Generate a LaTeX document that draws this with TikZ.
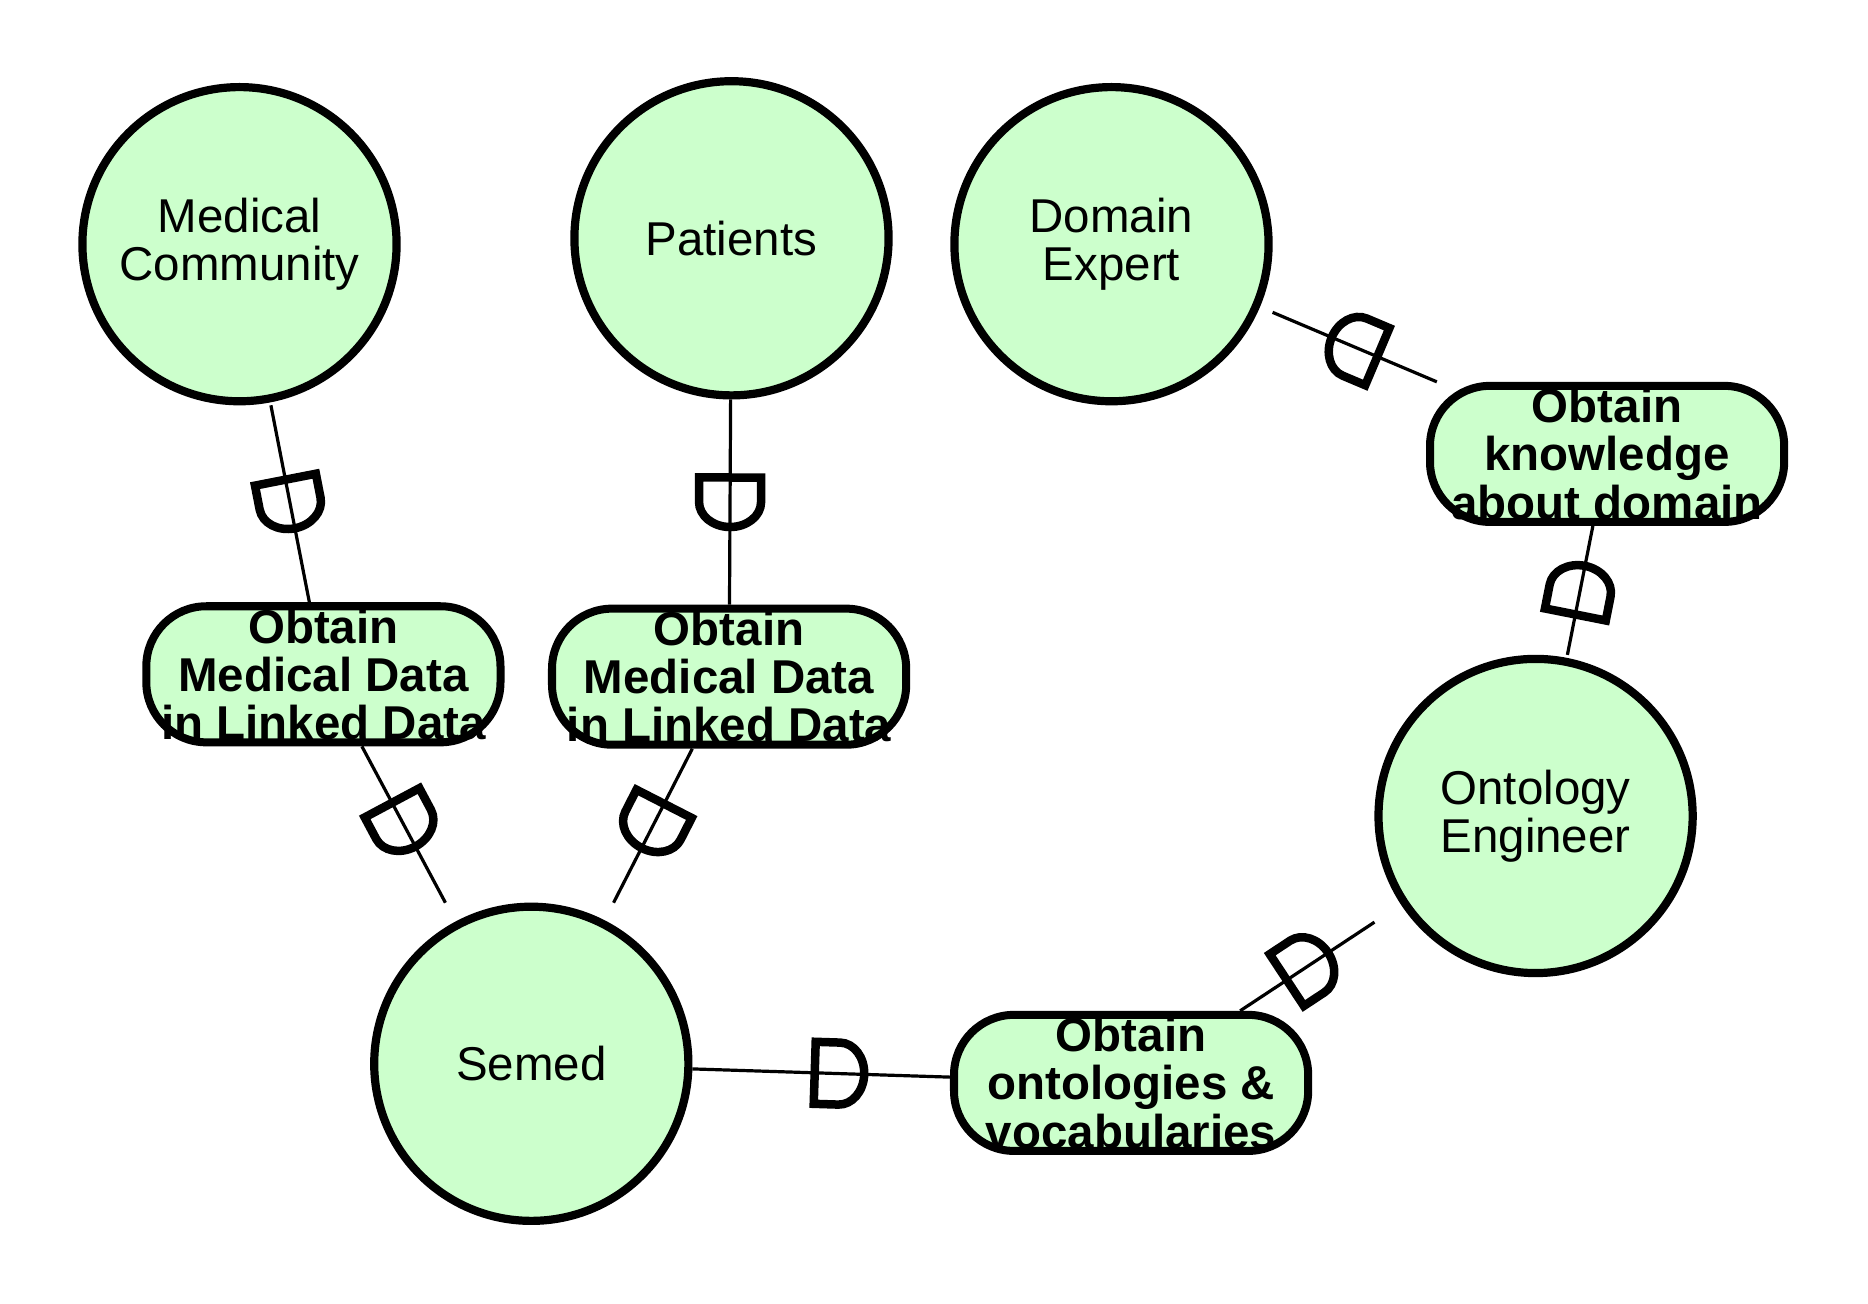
\documentclass[tikz,border=0pt]{standalone}
\usepackage{fontspec}
\setmainfont{Liberation Sans}
\usetikzlibrary{decorations.markings}
\definecolor{goalgreen}{RGB}{204,255,204}
\begin{document}
\begin{tikzpicture}[x=0.01cm,y=0.01cm,
  actor/.style={circle,draw=black,fill=goalgreen,line width=0.082cm,minimum size=3.14cm,inner sep=0pt,align=center,font=\fontsize{13.5pt}{13.7pt}\selectfont},
  bboxnode/.style={rectangle,minimum size=3.22cm,inner sep=0pt,outer sep=0pt},
  goal/.style={rectangle,rounded corners=0.6cm,draw=black,fill=goalgreen,line width=0.08cm,minimum width=3.54cm,minimum height=1.36cm,inner sep=0pt},
  goaltext/.style={align=center,inner sep=0pt,font=\bfseries\fontsize{13.5pt}{13.7pt}\selectfont},
  dmark/.style={line width=0.032cm,postaction={decorate},
    decoration={markings,mark=at position #1 with {\draw[line width=0.085cm,miter limit=4]
      (-0.245cm,0.31cm) -- (0cm,0.31cm) arc[start angle=90,end angle=-90,x radius=0.25cm,y radius=0.31cm] -- (-0.245cm,-0.31cm) -- cycle;}}},
  dmark/.default=0.5
]
\useasboundingbox (0,0) rectangle (1868,-1304);

% actors
\node[actor] (mc) at (239.5,-244.2) {Medical\\Community};
\node[actor] (pa) at (731.5,-238.3) {Patients};
\node[actor] (de) at (1111.5,-244.2) {Domain\\Expert};
\node[actor] (oe) at (1535.6,-816) {Ontology\\Engineer};
\node[actor] (se) at (531.3,-1063.8) {Semed};

% bounding rectangles of the actors (connector ends)
\node[bboxnode] (mcR) at (mc) {};
\node[bboxnode] (paR) at (pa) {};
\node[bboxnode] (deR) at (de) {};
\node[bboxnode] (oeR) at (oe) {};
\node[bboxnode] (seR) at (se) {};

% goals
\node[goal] (b1) at (323.4,-674.3) {};
\node[goal] (b2) at (729.1,-676.7) {};
\node[goal] (b3) at (1607.1,-453.9) {};
\node[goal] (b4) at (1131.1,-1082.9) {};
\node[goaltext] (t1) at (b1) {Obtain\\Medical Data\\in Linked Data};
\node[goaltext] (t2) at (b2) {Obtain\\Medical Data\\in Linked Data};
\node[goaltext] (t3) at (b3) {Obtain\\knowledge\\about domain};
\node[goaltext] (t4) at (b4) {Obtain\\ontologies \&\\vocabularies};

% dependencies
\draw[dmark] (mcR) -- (b1);
\draw[dmark] (b1) -- (seR);
\draw[dmark] (paR) -- (b2);
\draw[dmark] (b2) -- (seR);
\draw[dmark] (b3) -- (deR);
\draw[dmark] (oeR) -- (b3);
\draw[dmark] (b4) -- (oeR);
\draw[dmark=0.57] (seR) -- (b4);
\end{tikzpicture}
\end{document}
